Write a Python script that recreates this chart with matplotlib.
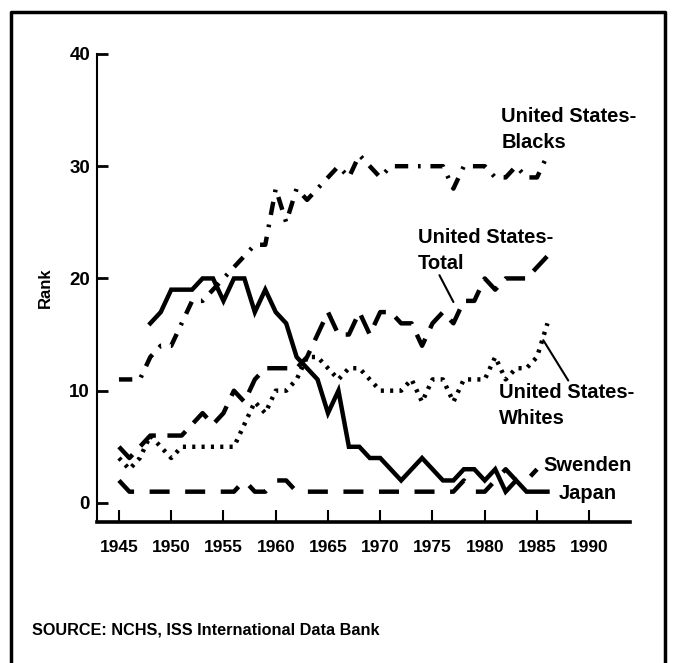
import matplotlib
matplotlib.use("Agg")
import matplotlib.pyplot as plt
from matplotlib.lines import Line2D

plt.rcParams['font.family'] = ['Liberation Sans', 'DejaVu Sans']
plt.rcParams['font.weight'] = 'bold'

years = list(range(1945, 1987))

us_blacks = [11, 11, 11, 13, 14, 14, 16, 18, 18, 19, 20, 21, 22, 23, 23, 28, 25, 28, 27, 28, 29,
             30, 29, 31, 30, 29, 30, 30, 30, 30, 30, 30, 28, 30, 30, 30, 29, 29, 30, 29, 29, 31]
us_total = [5, 4, 5, 6, 6, 6, 6, 7, 8, 7, 8, 10, 9, 11, 12, 12, 12, 12, 13, 15, 17,
            15, 15, 17, 15, 17, 17, 16, 16, 14, 16, 17, 16, 18, 18, 20, 19, 20, 20, 20, 21, 22]
us_whites = [4, 3, 4, 6, 5, 4, 5, 5, 5, 5, 5, 5, 7, 9, 8, 10, 10, 11, 13, 13, 12,
             11, 12, 12, 11, 10, 10, 10, 11, 9, 11, 11, 9, 11, 11, 11, 13, 11, 12, 12, 13, 16]

japan_years = list(range(1948, 1987))
japan = [16, 17, 19, 19, 19, 20, 20, 18, 20, 20, 17, 19, 17, 16, 13, 12, 11, 8, 10, 5,
         5, 4, 4, 3, 2, 3, 4, 3, 2, 2, 3, 3, 2, 3, 1, 2, 1, 1, 1]

sweden_years = list(range(1945, 1986))
sweden = [2, 1, 1, 1, 1, 1, 1, 1, 1, 1, 1, 1, 2, 1, 1, 2, 2, 1, 1, 1, 1,
          1, 1, 1, 1, 1, 1, 1, 1, 1, 1, 1, 1, 2, 1, 1, 2, 3, 2, 2, 3]

x_ticks = [1945, 1950, 1955, 1960, 1965, 1970, 1975, 1980, 1985, 1990]
y_ticks = [0, 10, 20, 30, 40]

fig = plt.figure(figsize=(6.76, 6.63), dpi=100)
ax = fig.add_axes([0.1435, 0.2127, 0.7885, 0.7059])

lw = 3.2
ax.plot(years, us_blacks, color='black', lw=lw, dashes=[3, 2.2, 0.6, 2.2])
ax.plot(years, us_total, color='black', lw=lw, dashes=[4.5, 2.6])
ax.plot(years, us_whites, color='black', lw=lw, dashes=[0.7, 1.4])
ax.plot(japan_years, japan, color='black', lw=lw, solid_joinstyle='miter')
ax.plot(sweden_years, sweden, color='black', lw=lw, dashes=[4.5, 3.5])

ax.set_xlim(1942.9, 1993.9)
ax.set_ylim(-1.7, 40)
ax.set_xticks(x_ticks)
ax.set_yticks(y_ticks)
ax.tick_params(axis='x', direction='in', length=9, width=1.5, pad=13, labelsize=12.5)
ax.tick_params(axis='y', direction='in', length=8, width=2, pad=5, labelsize=13.5)
ax.spines['top'].set_visible(False)
ax.spines['right'].set_visible(False)
ax.spines['bottom'].set_linewidth(2.6)
ax.spines['left'].set_linewidth(1.5)
ax.set_ylabel('Rank', fontsize=12, fontweight='bold', labelpad=12)

fs = 14.5
ls = 1.45
ax.text(1981.6, 33.3, 'United States-\nBlacks', fontsize=fs, va='center', ha='left', linespacing=ls)
ax.annotate('United States-\nTotal', xy=(1977.0, 17.9), xytext=(1973.6, 22.5), fontsize=fs,
            va='center', ha='left', linespacing=ls,
            arrowprops=dict(arrowstyle='-', lw=1.5, color='black', shrinkA=2, shrinkB=0,
                            relpos=(0.15, 0.0), patchA=None))
ax.annotate('United States-\nWhites', xy=(1985.6, 14.5), xytext=(1981.4, 8.7), fontsize=fs,
            va='center', ha='left', linespacing=ls,
            arrowprops=dict(arrowstyle='-', lw=1.5, color='black', shrinkA=2, shrinkB=0,
                            relpos=(0.52, 1.0), patchA=None))
ax.text(1985.6, 3.3, 'Swenden', fontsize=fs, va='center', ha='left')
ax.text(1987.05, 0.8, 'Japan', fontsize=fs, va='center', ha='left')

fig.text(0.047, 0.05, 'SOURCE: NCHS, ISS International Data Bank', fontsize=11.7,
         va='center', ha='left')

# frame around the figure (open at the bottom)
fx = [0.016, 0.016, 0.983, 0.983]
fy = [0.0, 0.982, 0.982, 0.0]
fig.add_artist(Line2D(fx, fy, transform=fig.transFigure, color='black', lw=2.5))

fig.savefig('out.png', dpi=100)
